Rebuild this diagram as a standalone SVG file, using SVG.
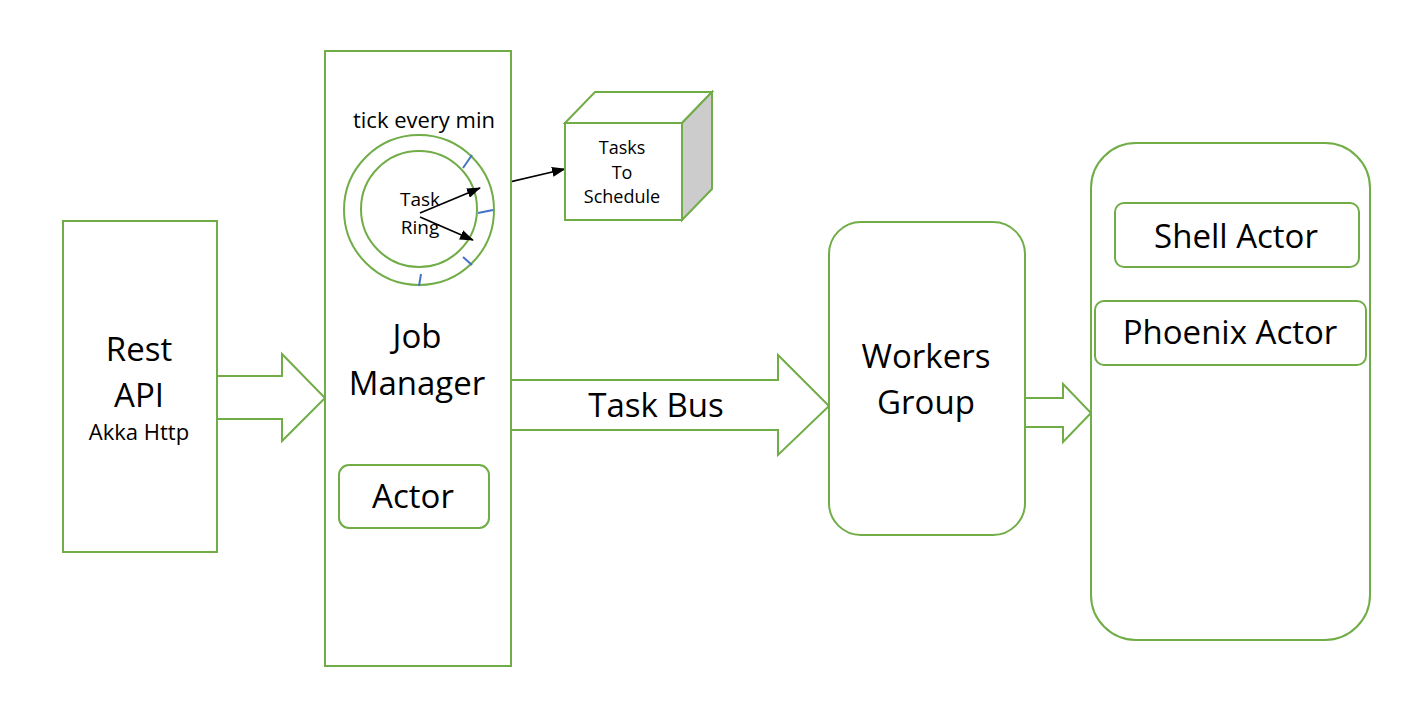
<svg xmlns="http://www.w3.org/2000/svg" width="1410" height="704" viewBox="0 0 1410 704">
<defs>
<style>
.box{fill:#fff;stroke:#70ad47;stroke-width:2}
.ring{fill:none;stroke:#70ad47;stroke-width:2}
.tick{stroke:#4472c4;stroke-width:2}
.ptr{stroke:#000;stroke-width:1.7;fill:none}
text{font-family:"Open Sans","Liberation Sans",sans-serif;fill:#000;text-anchor:middle}
.big{font-size:33px}
.mid{font-size:22px}
.sm{font-size:22px}
.ring-t{font-size:19px}
.xs{font-size:18px}
</style>
<marker id="ah" markerWidth="14" markerHeight="10" refX="13" refY="5" orient="auto" markerUnits="userSpaceOnUse">
<path d="M0,0 L14,5 L0,10 z" fill="#000"/>
</marker>
</defs>
<rect width="1410" height="704" fill="#fff"/>

<g id="connectors">
<path class="box" d="M217,376 H282 V354 L325,398 L282,441 V419 H217"/>
<path class="box" d="M511,380 H778 V355 L829,406 L778,455 V430 H511"/>
<path class="box" d="M1025,398 H1063 V384 L1091,413 L1063,442 V427 H1025"/>
<line class="ptr" x1="493" y1="186" x2="565" y2="169" marker-end="url(#ah)"/>
</g>

<g id="rest-api">
<rect class="box" x="63" y="221" width="154" height="331"/>
<text class="big" x="139" y="361">Rest</text>
<text class="big" x="139" y="407">API</text>
<text class="mid" x="139" y="440">Akka Http</text>
</g>

<g id="job-manager">
<rect class="box" x="325" y="51" width="186" height="615"/>
<text class="sm" x="424" y="128">tick every min</text>
<g id="task-ring">
<circle class="ring" cx="419" cy="210" r="75"/>
<circle class="ring" cx="419" cy="209" r="58"/>
<line class="tick" x1="463" y1="168" x2="472" y2="155"/>
<line class="tick" x1="478" y1="213" x2="493" y2="210"/>
<line class="tick" x1="463" y1="257" x2="472" y2="265"/>
<line class="tick" x1="419" y1="286" x2="421" y2="274"/>
<text class="ring-t" x="420" y="206">Task</text>
<text class="ring-t" x="420" y="234">Ring</text>
<line class="ptr" x1="420" y1="213" x2="480" y2="188" marker-end="url(#ah)"/>
<line class="ptr" x1="420" y1="217" x2="473" y2="240" marker-end="url(#ah)"/>
</g>
<text class="big" x="417" y="348">Job</text>
<text class="big" x="417" y="395">Manager</text>
<g id="actor">
<rect class="box" x="339" y="465" width="150" height="63" rx="10"/>
<text class="big" x="413" y="508">Actor</text>
</g>
</g>

<g id="tasks-to-schedule">
<polygon points="565,123 595,92 712,92 682,123" fill="#fff" stroke="#70ad47" stroke-width="2"/>
<polygon points="682,123 712,92 712,189 682,220" fill="#cccccc" stroke="#70ad47" stroke-width="2"/>
<rect class="box" x="565" y="123" width="117" height="97"/>
<text class="xs" x="622" y="154">Tasks</text>
<text class="xs" x="622" y="179">To</text>
<text class="xs" x="622" y="203">Schedule</text>
</g>

<text class="big" x="656" y="417">Task Bus</text>

<g id="workers-group">
<rect class="box" x="829" y="222" width="196" height="313" rx="32"/>
<text class="big" x="926" y="368">Workers</text>
<text class="big" x="926" y="414">Group</text>
</g>

<g id="actors-container">
<rect class="box" x="1091" y="143" width="279" height="497" rx="45"/>
<g id="shell-actor">
<rect class="box" x="1115" y="203" width="244" height="64" rx="9"/>
<text class="big" x="1236" y="248">Shell Actor</text>
</g>
<g id="phoenix-actor">
<rect class="box" x="1095" y="301" width="271" height="64" rx="9"/>
<text class="big" x="1230" y="344">Phoenix Actor</text>
</g>
</g>
</svg>
